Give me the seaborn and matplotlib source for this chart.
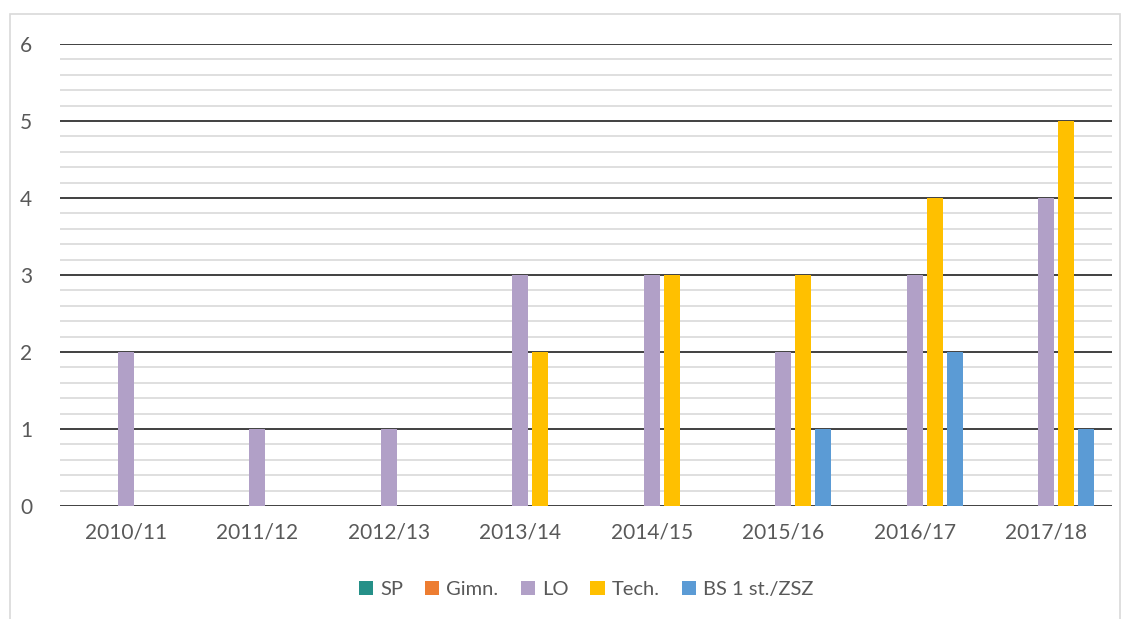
import pandas as pd
import numpy as np
import matplotlib.pyplot as plt
import seaborn as sns
from matplotlib.patches import Rectangle
from matplotlib.ticker import MultipleLocator

years = ['2010/11', '2011/12', '2012/13', '2013/14', '2014/15', '2015/16', '2016/17', '2017/18']
series = ['SP', 'Gimn.', 'LO', 'Tech.', 'BS 1 st./ZSZ']
sp = [0, 0, 0, 0, 0, 0, 0, 0]
gimn = [0, 0, 0, 0, 0, 0, 0, 0]
lo = [2, 1, 1, 3, 3, 2, 3, 4]
tech = [0, 0, 0, 2, 3, 3, 4, 5]
bs = [0, 0, 0, 0, 0, 1, 2, 1]
colors = ['#259088', '#ED7D31', '#B1A0C7', '#FFC000', '#5B9BD5']

rows = []
for name, vals in zip(series, [sp, gimn, lo, tech, bs]):
    for y, v in zip(years, vals):
        rows.append({'year': y, 'series': name, 'value': v})
df = pd.DataFrame(rows)

sns.set_theme(style='white')
plt.rcParams['font.family'] = ['Lato', 'DejaVu Sans']

fig = plt.figure(figsize=(11.29, 6.19), dpi=100)
ax = fig.add_axes([0.0531, 0.1826, 0.932, 0.7463])

# light outer frame
fig.patches.append(Rectangle((10 / 1129, -0.01), 1110 / 1129, 1 - 14 / 619 + 0.01,
                             transform=fig.transFigure, fill=False,
                             edgecolor='#d9d9d9', linewidth=1.2, zorder=0))

sns.barplot(data=df, x='year', y='value', hue='series', palette=colors,
            width=0.76, gap=0.2, ax=ax, legend=True, saturation=1, linewidth=0)

ax.set_ylim(0, 6)
ax.set_xlim(-0.5, len(years) - 0.5)
ax.yaxis.set_major_locator(MultipleLocator(1))
ax.yaxis.set_minor_locator(MultipleLocator(0.2))
ax.grid(which='major', axis='y', color='#404040', linewidth=1.4, zorder=0)
ax.grid(which='minor', axis='y', color='#d9d9d9', linewidth=1.2, zorder=0)
ax.set_axisbelow(True)
for s in ax.spines.values():
    s.set_visible(False)
ax.tick_params(axis='both', which='both', length=0, labelsize=15, labelcolor='#595959')
ax.tick_params(axis='y', pad=20)
ax.tick_params(axis='x', pad=12)
ax.set_xlabel('')
ax.set_ylabel('')

handles, labels = ax.get_legend_handles_labels()
ax.legend(handles, labels, loc='center', bbox_to_anchor=(0.5, -0.18), ncol=5,
          frameon=False, fontsize=14.5, handlelength=0.7, handleheight=0.7,
          handletextpad=0.35, columnspacing=1.1, labelcolor='#595959')

fig.savefig('out.png', dpi=100)
